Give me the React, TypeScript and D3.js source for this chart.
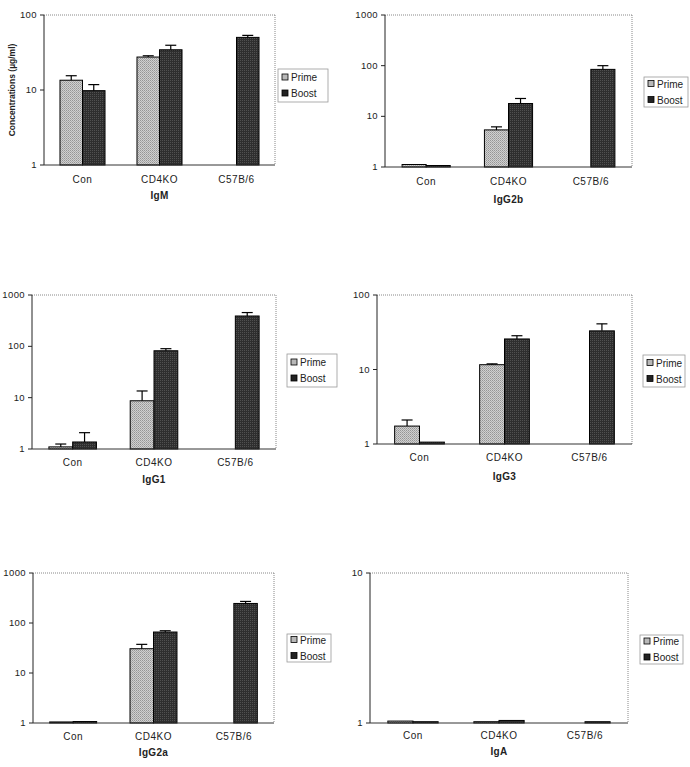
import React from "react";
import * as d3 from "d3";

const categories = ["Con", "CD4KO", "C57B/6"];
const seriesNames = ["Prime", "Boost"];

const panelTitles = ["IgM", "IgG2b", "IgG1", "IgG3", "IgG2a", "IgA"];
const panelMax = [100, 1000, 1000, 100, 1000, 10];

// Values per panel: [Con, CD4KO, C57B/6]; null = no bar
const primeValues: (number | null)[][] = [
  [13.5, 27.5, null],
  [1.12, 5.4, null],
  [1.1, 8.7, null],
  [1.74, 11.6, null],
  [1.05, 30.6, null],
  [1.03, 1.02, null],
];
const primeErrors: (number | null)[][] = [
  [15.5, 28.6, null],
  [1.12, 6.2, null],
  [1.25, 13.5, null],
  [2.1, 11.9, null],
  [1.05, 37.4, null],
  [1.03, 1.02, null],
];
const boostValues: (number | null)[][] = [
  [9.8, 34.4, 50.3],
  [1.07, 17.9, 84.5],
  [1.37, 82, 390],
  [1.06, 25.7, 33],
  [1.07, 66, 246],
  [1.02, 1.04, 1.02],
];
const boostErrors: (number | null)[][] = [
  [11.8, 39.5, 53.5],
  [1.07, 22.5, 100],
  [2.08, 90, 455],
  [1.06, 28.4, 41],
  [1.07, 70, 270],
  [1.02, 1.04, 1.02],
];

type Layout = {
  x0: number; x1: number; y0: number; y1: number;
  lx0: number; lx1: number; ly0: number; ly1: number;
  xlab: number; title: number;
};
const layouts: Layout[] = [
  { x0: 44, x1: 275, y0: 15, y1: 165, lx0: 278, lx1: 328, ly0: 69, ly1: 102, xlab: 183, title: 199 },
  { x0: 385, x1: 632, y0: 15, y1: 167, lx0: 644, lx1: 688, ly0: 77, ly1: 107, xlab: 185, title: 203 },
  { x0: 32, x1: 276, y0: 295, y1: 449, lx0: 287, lx1: 337, ly0: 354, ly1: 387, xlab: 466, title: 483 },
  { x0: 377, x1: 632, y0: 295, y1: 444, lx0: 643, lx1: 685, ly0: 355, ly1: 387, xlab: 461, title: 480 },
  { x0: 33, x1: 274, y0: 573, y1: 723, lx0: 287, lx1: 331, ly0: 634, ly1: 662, xlab: 740, title: 756 },
  { x0: 370, x1: 628, y0: 573, y1: 723, lx0: 640, lx1: 683, ly0: 635, ly1: 664, xlab: 739, title: 755 },
];

const FONT = "'Liberation Sans', Arial, sans-serif";

function Panel({ idx }: { idx: number }) {
  const L = layouts[idx];
  const y = d3.scaleLog().domain([1, panelMax[idx]]).range([L.y1, L.y0]);
  const x = d3.scaleBand().domain(categories).range([L.x0, L.x1]).padding(0);
  const inner = d3
    .scaleBand()
    .domain(seriesNames)
    .range([0, x.step()])
    .paddingInner(0)
    .paddingOuter(0.71);
  const ticks = y.ticks().filter((t) => Math.abs(Math.log10(t) - Math.round(Math.log10(t))) < 1e-9);
  const series = [
    { name: "Prime", vals: primeValues[idx], errs: primeErrors[idx], fill: "url(#primePat)" },
    { name: "Boost", vals: boostValues[idx], errs: boostErrors[idx], fill: "url(#boostPat)" },
  ];
  const bw = inner.bandwidth();
  const legendMid = (L.ly0 + L.ly1) / 2;
  return (
    <g>
      <line x1={L.x0} x2={L.x1} y1={L.y0} y2={L.y0} stroke="#888" strokeDasharray="1,1" />
      <line x1={L.x1} x2={L.x1} y1={L.y0} y2={L.y1} stroke="#888" strokeDasharray="1,1" />
      {categories.map((c, ci) =>
        series.map((s) => {
          const v = s.vals[ci];
          if (v == null) return null;
          const bx = (x(c) as number) + (inner(s.name) as number);
          const top = y(v);
          const e = s.errs[ci];
          return (
            <g key={c + s.name}>
              <rect x={bx} y={top} width={bw} height={L.y1 - top} fill={s.fill} stroke="#000" strokeWidth={1} />
              {e != null && e > v && (
                <g stroke="#000" strokeWidth={1.2}>
                  <line x1={bx + bw / 2} x2={bx + bw / 2} y1={top} y2={y(e)} />
                  <line x1={bx + bw / 2 - 5.5} x2={bx + bw / 2 + 5.5} y1={y(e)} y2={y(e)} />
                </g>
              )}
            </g>
          );
        })
      )}
      <line x1={L.x0} x2={L.x0} y1={L.y0} y2={L.y1} stroke="#222" strokeWidth={1} />
      <line x1={L.x0} x2={L.x1} y1={L.y1} y2={L.y1} stroke="#333" strokeWidth={1} />
      {ticks.map((t) => (
        <g key={t}>
          <line x1={L.x0 - 4} x2={L.x0} y1={y(t)} y2={y(t)} stroke="#222" />
          <text x={L.x0 - 7} y={y(t)} dy="0.33em" textAnchor="end" fontSize={9.5} fontFamily={FONT} fill="#222" letterSpacing="0.4">
            {d3.format("d")(t)}
          </text>
        </g>
      ))}
      {categories.map((c) => (
        <text key={c} x={(x(c) as number) + x.bandwidth() / 2} y={L.xlab} textAnchor="middle" fontSize={10} fontFamily={FONT} fill="#222" letterSpacing="0.5">
          {c}
        </text>
      ))}
      <text x={(L.x0 + L.x1) / 2} y={L.title} textAnchor="middle" fontSize={10} fontWeight="bold" fontFamily={FONT} fill="#222" letterSpacing="0.3">
        {panelTitles[idx]}
      </text>
      <rect x={L.lx0} y={L.ly0} width={L.lx1 - L.lx0} height={L.ly1 - L.ly0} fill="#fff" stroke="#999" strokeWidth={0.8} />
      {seriesNames.map((n, i) => {
        const cy = legendMid + (i === 0 ? -8 : 8);
        return (
          <g key={n}>
            <rect x={L.lx0 + 4} y={cy - 3.5} width={6} height={6} fill={i === 0 ? "#b8b8b8" : "#222"} stroke="#000" strokeWidth={0.8} />
            <text x={L.lx0 + 13} y={cy} dy="0.35em" fontSize={10} fontFamily={FONT} fill="#222">
              {n}
            </text>
          </g>
        );
      })}
      {idx === 0 && (
        <text
          transform={`translate(15,${(L.y0 + L.y1) / 2}) rotate(-90)`}
          textAnchor="middle"
          fontSize={8.5}
          fontWeight="bold"
          fontFamily={FONT}
          fill="#222"
        >
          Concentrations  (µg/ml)
        </text>
      )}
    </g>
  );
}

export default function App() {
  return (
    <div style={{ position: "absolute", left: 0, top: 0 }}>
      <svg width={690} height={767} style={{ display: "block", background: "#fff" }}>
        <defs>
          <pattern id="primePat" width={2} height={2} patternUnits="userSpaceOnUse">
            <rect width={2} height={2} fill="#d0d0d0" />
            <rect width={1} height={1} fill="#959595" />
            <rect x={1} y={1} width={1} height={1} fill="#aaaaaa" />
          </pattern>
          <pattern id="boostPat" width={2} height={2} patternUnits="userSpaceOnUse">
            <rect width={2} height={2} fill="#2e2e2e" />
            <rect width={1} height={1} fill="#505050" />
          </pattern>
        </defs>
        {panelTitles.map((_, i) => (
          <Panel key={i} idx={i} />
        ))}
      </svg>
    </div>
  );
}
